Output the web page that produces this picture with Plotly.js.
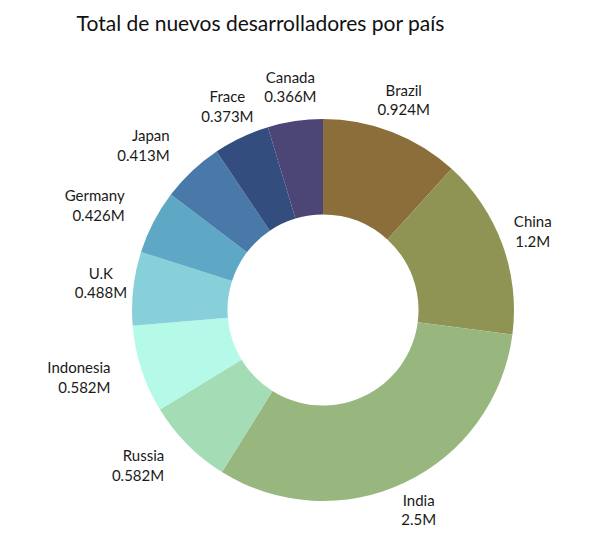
<!DOCTYPE html>
<html>
<head>
<meta charset="utf-8">
<script src="https://cdn.plot.ly/plotly-3.0.1.min.js"></script>
<style>html,body{margin:0;padding:0;background:#fff;}</style>
</head>
<body>
<div id="chart" style="width:612px;height:558px;"></div>
<script>
const countries = ["Brazil", "China", "India", "Russia", "Indonesia", "U.K", "Germany", "Japan", "Frace", "Canada"];
const developersMillions = [0.924, 1.2, 2.5, 0.582, 0.582, 0.488, 0.426, 0.413, 0.373, 0.366];
const sliceColors = ["#8B6E3A", "#8F9353", "#97B77F", "#A3DCB5", "#B5F9E8", "#87D0D9", "#5EA8C6", "#4879A8", "#334E7E", "#4C4677"];

// label anchoring style (per slice)
const labelAnchors = ["middle center", "middle center", "middle center", "middle left", "middle left",
                      "middle center", "middle left", "middle left", "middle center", "middle center"];

// pie occupies a 382px circle centred at (323,310); label ring polar shares centre, radius scaled 1.25x
const pieDomain = {x: [0.2157, 0.8399], y: [0.1022, 0.7867]};
const labelDomain = {x: [0.13766, 0.91789], y: [0.01658, 0.87231]};

// mid-angle of each slice (degrees, clockwise from top), from the data
const total = developersMillions.reduce((a, b) => a + b, 0);
let cum = 0;
const midAngles = developersMillions.map(v => {
  const m = (cum + v / 2) / total * 360;
  cum += v;
  return m;
});
const labelTexts = countries.map((c, i) => c + "<br>" + developersMillions[i] + "M");

const pieTrace = {
  type: "pie",
  labels: countries,
  values: developersMillions,
  hole: 0.5,
  sort: false,
  direction: "clockwise",
  rotation: 0,
  domain: pieDomain,
  marker: {colors: sliceColors, line: {width: 0}},
  textinfo: "none",
  hoverinfo: "label+value",
  showlegend: false
};

const labelTrace = {
  type: "scatterpolar",
  mode: "text",
  r: countries.map(() => 1.17),
  theta: midAngles,
  text: labelTexts,
  textposition: labelAnchors,
  textfont: {family: "Lato, sans-serif", size: 15, color: "#1a1a1a"},
  cliponaxis: false,
  hoverinfo: "skip",
  showlegend: false
};

const layout = {
  width: 612,
  height: 558,
  title: {text: "Total de nuevos desarrolladores por país", font: {family: "Lato, sans-serif", size: 21, color: "#111"}, x: 0.4257, xanchor: "center", y: 0.957, yanchor: "middle"},
  margin: {t: 0, b: 0, l: 0, r: 0},
  paper_bgcolor: "#fff",
  font: {family: "Lato, sans-serif"},
  polar: {
    domain: labelDomain,
    bgcolor: "rgba(0,0,0,0)",
    radialaxis: {visible: false, range: [0, 1.25]},
    angularaxis: {visible: false, rotation: 90, direction: "clockwise"}
  }
};

Plotly.newPlot("chart", [pieTrace, labelTrace], layout, {displayModeBar: false, staticPlot: true});
</script>
</body>
</html>
